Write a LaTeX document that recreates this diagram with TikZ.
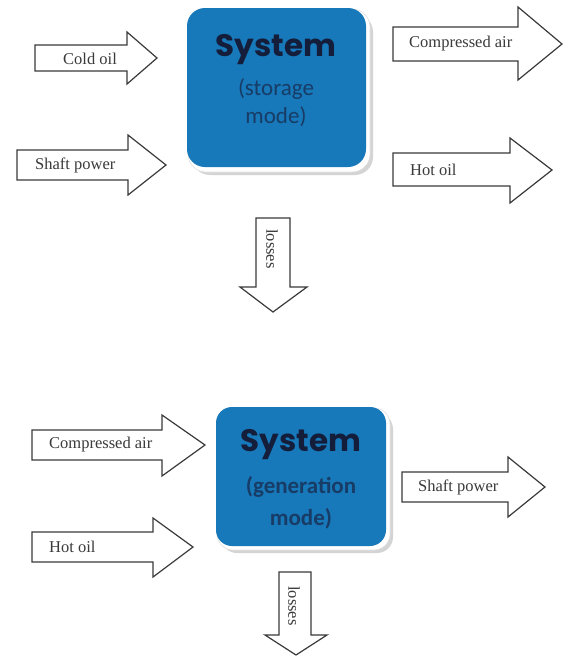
\documentclass[tikz,border=0pt]{standalone}
\usepackage{fontspec}
\setmainfont{Liberation Serif}
\newfontfamily\sysfont{Poppins}
\newfontfamily\modefont{Carlito}
\definecolor{boxblue}{HTML}{1778BA}
\definecolor{navy}{HTML}{141D3A}
\definecolor{modeblue}{HTML}{173C66}
\definecolor{lineg}{HTML}{3A3A3A}
\begin{document}
\begin{tikzpicture}[x=1pt,y=-1pt,
  fat/.style={draw=lineg,fill=white,line width=1.2pt,line join=miter},
  lbl/.style={anchor=west,inner sep=0pt,text=lineg,font=\fontsize{16.5}{18}\selectfont},
  vlbl/.style={inner sep=0pt,text=lineg,rotate=-90,font=\fontsize{16.5}{18}\selectfont},
  systxt/.style={inner sep=0pt,text=navy,font=\sysfont\bfseries\fontsize{31}{33}\selectfont},
  modetxt/.style={inner sep=0pt,text=modeblue,font=\modefont\fontsize{23}{25}\selectfont},
  shadowc/.style={fill=black!30,opacity=0.55},
  rim/.style={fill=white,draw=black!12,line width=0.6pt},
  sysbox/.style={fill=boxblue}]
\useasboundingbox (0,0) rectangle (569,657);
\fill[white] (0,0) rectangle (569,657);

% ---- top system box ----
\fill[shadowc,rounded corners=18pt] (192,14) rectangle (373,175);
\filldraw[rim,rounded corners=18pt] (188,9) rectangle (370,172);
\fill[sysbox,rounded corners=18pt] (187,8) rectangle (366,167);
\node[systxt] (sys1) at (276,50) {System};
\node[modetxt] (m1a) at (276,89) {(storage};
\node[modetxt] (m1b) at (276,117) {mode)};

% ---- bottom system box ----
\fill[shadowc,rounded corners=16pt] (221,413) rectangle (393,553);
\filldraw[rim,rounded corners=16pt] (217,408) rectangle (390,550);
\fill[sysbox,rounded corners=16pt] (216,407) rectangle (386,546);
\node[systxt] (sys2) at (301,445) {System};
\node[modetxt,font=\modefont\bfseries\fontsize{23}{25}\selectfont] (m2a) at (301,487) {(generation};
\node[modetxt,font=\modefont\bfseries\fontsize{23}{25}\selectfont] (m2b) at (301,519) {mode)};

% ---- top arrows ----
\draw[fat] (35,45) -- (127,45) -- (127,32) -- (157,58) -- (127,84) -- (127,71) -- (35,71) -- cycle;
\node[lbl] (coldoil) at (63,59) {Cold oil};

\draw[fat] (17,150) -- (128,150) -- (128,135) -- (166,165) -- (128,195) -- (128,180) -- (17,180) -- cycle;
\node[lbl] (shaft1) at (35,165) {Shaft power};

\draw[fat] (393,27) -- (518,27) -- (518,7) -- (562,44) -- (518,80) -- (518,61) -- (393,61) -- cycle;
\node[lbl] (air1) at (409,44) {Compressed air};

\draw[fat] (393,153) -- (510,153) -- (510,138) -- (552,170) -- (510,203) -- (510,186) -- (393,186) -- cycle;
\node[lbl] (hot1) at (410,170) {Hot oil};

\draw[fat] (256,218) -- (290,218) -- (290,287) -- (307,287) -- (273,312) -- (240,287) -- (256,287) -- cycle;
\node[vlbl] (loss1) at (272,249) {losses};

% ---- bottom arrows ----
\draw[fat] (32,430) -- (162,430) -- (162,415) -- (205,445) -- (162,476) -- (162,460) -- (32,460) -- cycle;
\node[lbl] (air2) at (49,445) {Compressed air};

\draw[fat] (32,532) -- (153,532) -- (153,518) -- (193,547) -- (153,577) -- (153,562) -- (32,562) -- cycle;
\node[lbl] (hot2) at (49,547) {Hot oil};

\draw[fat] (402,472) -- (508,472) -- (508,457) -- (545,487) -- (508,517) -- (508,502) -- (402,502) -- cycle;
\node[lbl] (shaft2) at (418,487) {Shaft power};

\draw[fat] (279,572) -- (311,572) -- (311,635) -- (327,635) -- (296,655) -- (265,635) -- (279,635) -- cycle;
\node[vlbl] (loss2) at (294,606) {losses};
\end{tikzpicture}
\end{document}
